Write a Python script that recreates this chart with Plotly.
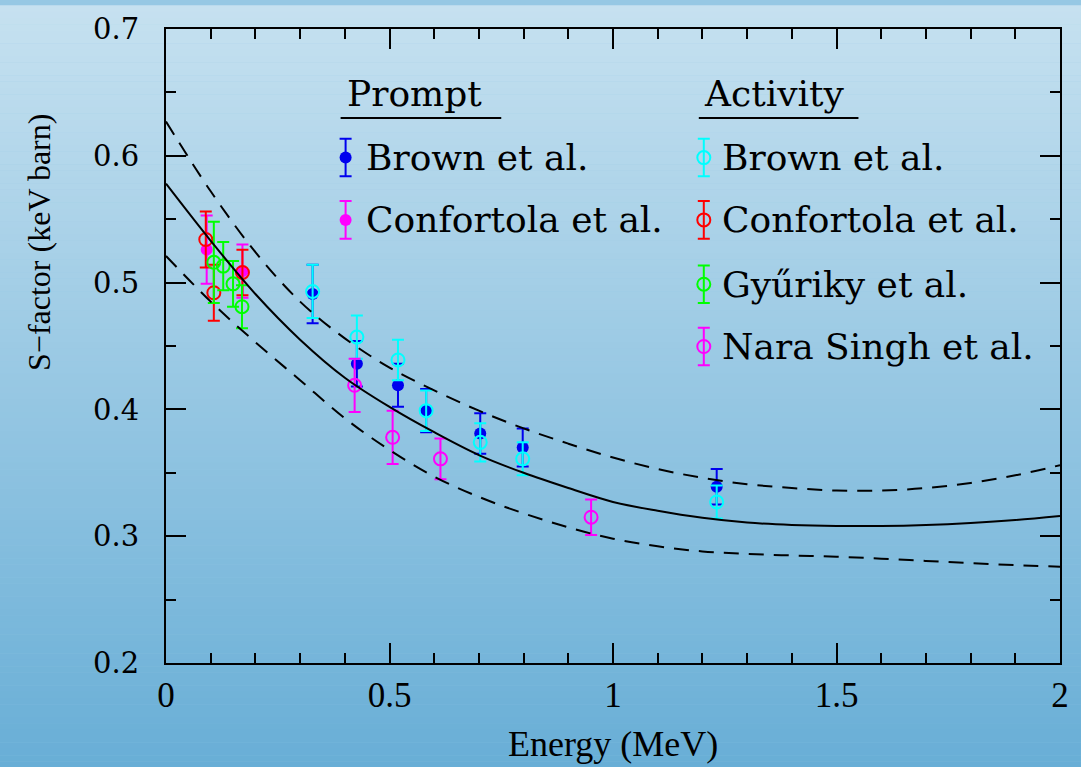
import plotly.graph_objects as go

# ---------------- data ----------------
# Prompt gamma data
brown_p_E = [0.328, 0.427, 0.519, 0.582, 0.703, 0.798, 1.232]
brown_p_S = [0.491, 0.436, 0.419, 0.399, 0.381, 0.370, 0.339]
brown_p_err = [0.023, 0.018, 0.017, 0.017, 0.016, 0.015, 0.014]

conf_p_E = [0.091, 0.171]
conf_p_S = [0.526, 0.509]
conf_p_err = [0.027, 0.021]

# Activity data
brown_a_E = [0.328, 0.427, 0.519, 0.582, 0.703, 0.798, 1.232]
brown_a_S = [0.493, 0.457, 0.439, 0.399, 0.374, 0.361, 0.327]
brown_a_err = [0.021, 0.017, 0.016, 0.016, 0.015, 0.013, 0.013]

conf_a_E = [0.089, 0.107, 0.171]
conf_a_S = [0.534, 0.492, 0.508]
conf_a_err = [0.022, 0.022, 0.018]

gyu_E = [0.107, 0.128, 0.150, 0.170]
gyu_S = [0.516, 0.513, 0.499, 0.481]
gyu_err = [0.032, 0.019, 0.018, 0.017]

nara_E = [0.422, 0.507, 0.614, 0.951]
nara_S = [0.419, 0.378, 0.361, 0.315]
nara_err = [0.021, 0.021, 0.016, 0.014]

# Fit curve and its band
curve_E = [0.0, 0.1, 0.2, 0.3, 0.4, 0.5, 0.6, 0.7, 0.8, 0.9, 1.0,
           1.1, 1.2, 1.3, 1.4, 1.5, 1.6, 1.7, 1.8, 1.9, 2.0]
fit_S = [0.578, 0.533, 0.491, 0.455, 0.425, 0.402, 0.382, 0.364, 0.350, 0.338, 0.327,
         0.320, 0.3145, 0.3108, 0.3089, 0.3081, 0.3081, 0.3089, 0.3105, 0.3128, 0.316]
upper_S = [0.627, 0.572, 0.524, 0.485, 0.456, 0.433, 0.415, 0.399, 0.385, 0.373, 0.362,
           0.353, 0.346, 0.341, 0.338, 0.336, 0.336, 0.338, 0.342, 0.348, 0.356]
lower_S = [0.521, 0.485, 0.453, 0.423, 0.393, 0.368, 0.347, 0.331, 0.318, 0.307, 0.298,
           0.292, 0.288, 0.2860, 0.2848, 0.2838, 0.2823, 0.2805, 0.2787, 0.2772, 0.276]

prompt_labels = ["Brown et al.", "Confortola et al."]
activity_labels = ["Brown et al.", "Confortola et al.", "Gyűriky et al.", "Nara Singh et al."]

BLUE = "#0000ee"
CYAN = "#00ffff"
MAGENTA = "#ff00ff"
RED = "#ff0000"
GREEN = "#00ff00"

W, H = 1081, 767
ML, MR, MT, MB = 166, 19, 22, 104
PW, PH = W - ML - MR, H - MT - MB


def px_x(p):
    return (p - ML) / PW


def px_y(p):
    return (H - MB - p) / PH


fig = go.Figure()


def add_points(E, S, err, color, filled, errcolor=None, xaxis="x", yaxis="y"):
    fig.add_trace(go.Scatter(
        x=E, y=S, mode="markers", xaxis=xaxis, yaxis=yaxis,
        marker=dict(symbol="circle" if filled else "circle-open",
                    size=12 if filled else 13, color=color,
                    line=dict(width=0 if filled else 2, color=color)),
        error_y=dict(type="data", array=err, visible=True,
                     color=errcolor or color, thickness=2, width=6),
        showlegend=False, hoverinfo="x+y"))


add_points(brown_p_E, brown_p_S, brown_p_err, BLUE, True)
add_points(brown_a_E, brown_a_S, brown_a_err, CYAN, False)
add_points(conf_p_E, conf_p_S, conf_p_err, MAGENTA, True)
add_points(conf_a_E, conf_a_S, conf_a_err, RED, False)
add_points(gyu_E, gyu_S, gyu_err, GREEN, False)
add_points(nara_E, nara_S, nara_err, MAGENTA, False)

fig.add_trace(go.Scatter(x=curve_E, y=fit_S, mode="lines", line=dict(color="black", width=2, shape="spline"),
                         showlegend=False, hoverinfo="skip"))
for band in (upper_S, lower_S):
    fig.add_trace(go.Scatter(x=curve_E, y=band, mode="lines",
                             line=dict(color="black", width=2, dash="15px,10px", shape="spline"),
                             showlegend=False, hoverinfo="skip"))

# ---------------- custom two-column legend ----------------
LEG_FONT = dict(family="DejaVu Serif", size=36, color="black")
prompt_style = [(BLUE, True), (MAGENTA, True)]
act_style = [(CYAN, False), (RED, False), (GREEN, False), (MAGENTA, False)]
rows_py = [152, 215, 280, 343]
legend_err = 19 / PH

for col_px, text_px, labels, styles in ((346, 364, prompt_labels, prompt_style),
                                        (705, 721, activity_labels, act_style)):
    for i, (lab, (c, filled)) in enumerate(zip(labels, styles)):
        add_points([px_x(col_px)], [px_y(rows_py[i])], [legend_err], c, filled,
                   xaxis="x2", yaxis="y2")
        fig.add_annotation(x=px_x(text_px), y=px_y(rows_py[i]), xref="paper", yref="paper",
                           text=lab, showarrow=False, xanchor="left", yanchor="middle",
                           font=LEG_FONT)

for title, tx, u0, u1 in (("Prompt", 345, 341, 502), ("Activity", 703, 700, 860)):
    fig.add_annotation(x=px_x(tx), y=px_y(87), xref="paper", yref="paper", text=title,
                       showarrow=False, xanchor="left", yanchor="middle", font=LEG_FONT)
    fig.add_shape(type="line", xref="paper", yref="paper", x0=px_x(u0), x1=px_x(u1),
                  y0=px_y(112), y1=px_y(112), line=dict(color="black", width=2))

# axis titles
fig.add_annotation(x=0.5, y=px_y(745), xref="paper", yref="paper", text="Energy (MeV)",
                   showarrow=False, xanchor="center", yanchor="middle",
                   font=dict(family="Liberation Serif", size=36, color="black"))
fig.add_annotation(x=px_x(38), y=px_y(238), xref="paper", yref="paper", text="S\u2212factor (keV barn)",
                   showarrow=False, xanchor="center", yanchor="middle", textangle=-90,
                   font=dict(family="Liberation Serif", size=32, color="black"))

# ---------------- background gradient ----------------
top_c = (198, 225, 240)
bot_c = (104, 174, 214)
N = 120
y_top = px_y(-2)
y_bot = px_y(H + 2)
for i in range(N):
    t = (i + 0.5) / N
    c = tuple(round(top_c[k] + (bot_c[k] - top_c[k]) * t) for k in range(3))
    y0 = y_top + (y_bot - y_top) * i / N
    y1 = y_top + (y_bot - y_top) * (i + 1) / N
    fig.add_shape(type="rect", xref="paper", yref="paper", x0=px_x(-2), x1=px_x(W + 2),
                  y0=y0, y1=y1 - 0.0005, line=dict(width=0),
                  fillcolor="rgb(%d,%d,%d)" % c, layer="below")

axis_common = dict(showline=True, linecolor="black", linewidth=2, mirror="allticks",
                   ticks="inside", ticklen=20, tickwidth=2, tickcolor="black",
                   showgrid=False, zeroline=False)

fig.update_layout(
    width=W, height=H,
    margin=dict(l=ML, r=MR, t=MT, b=MB),
    paper_bgcolor="rgb(150,200,228)", plot_bgcolor="rgba(0,0,0,0)",
    xaxis=dict(range=[0, 2], dtick=0.5, tick0=0,
               minor=dict(dtick=0.1, ticks="inside", ticklen=10, tickwidth=1.5, tickcolor="black"),
               tickfont=dict(family="Liberation Serif", size=35, color="black"),
               ticklabelstandoff=0, **axis_common),
    yaxis=dict(range=[0.2, 0.7], dtick=0.1, tick0=0.2,
               minor=dict(dtick=0.05, ticks="inside", ticklen=10, tickwidth=1.5, tickcolor="black"),
               tickfont=dict(family="DejaVu Serif", size=29, color="black"),
               ticklabelstandoff=19, **axis_common),
    xaxis2=dict(range=[0, 1], overlaying="x", visible=False),
    yaxis2=dict(range=[0, 1], overlaying="y", visible=False),
)

fig.write_html(
    "out.html",
    config={"displayModeBar": False},
    post_script="document.body.style.margin='0';document.documentElement.style.overflow='hidden';",
)
